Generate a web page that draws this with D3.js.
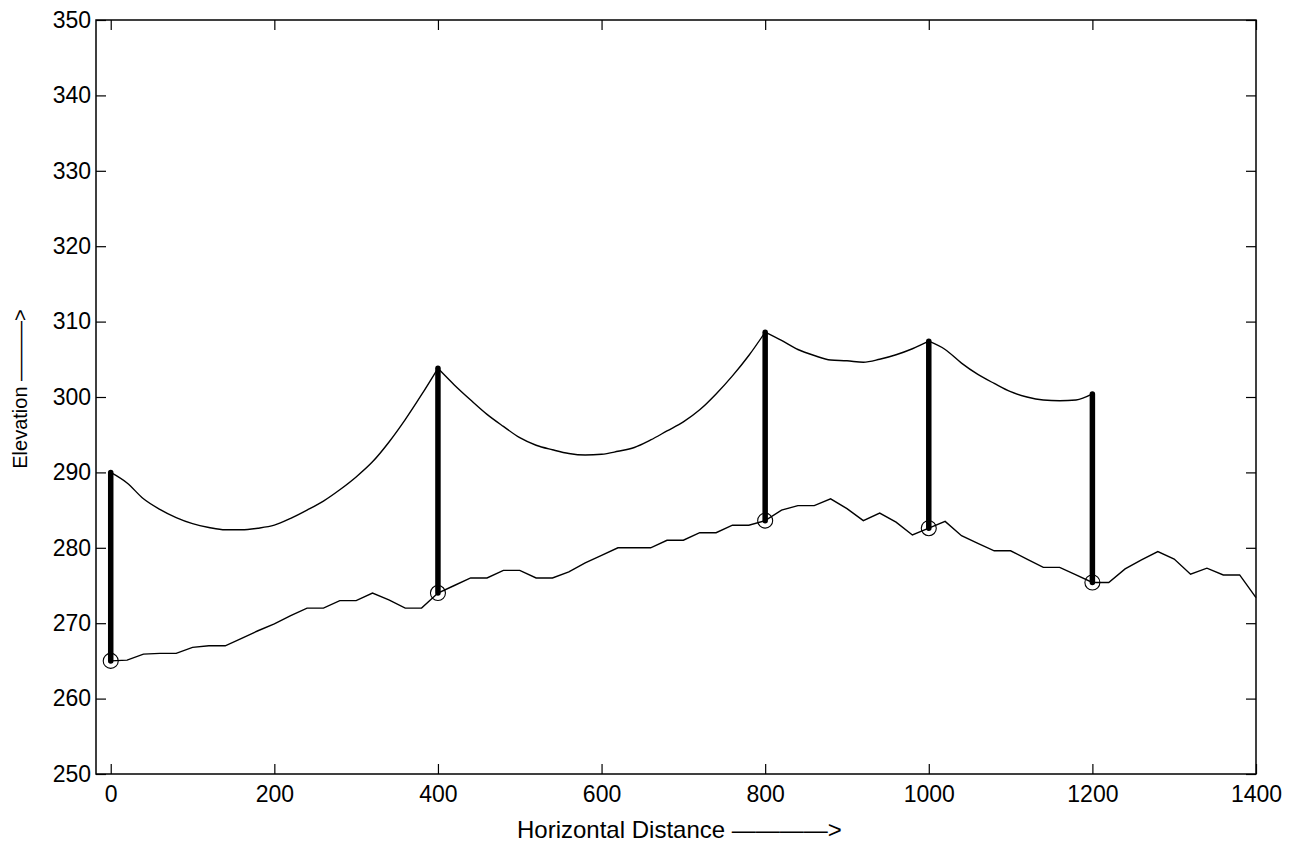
<!DOCTYPE html>
<html>
<head>
<meta charset="utf-8">
<script src="https://cdn.jsdelivr.net/npm/d3@7"></script>
<style>
  body { margin: 0; background: #fff; }
  text { font-family: "Liberation Sans", Arial, sans-serif; fill: #000; }
</style>
</head>
<body>
<script>
// ground profile (x every 20 m)
const groundX = d3.range(0, 1401, 20);
const groundY = [265, 265.1, 265.9, 266, 266, 266.8, 267, 267, 268, 269,
    269.9, 271, 272, 272, 273, 273, 274, 273.1, 272, 272,
    274, 275, 276, 276, 277, 277, 276, 276, 276.8, 278,
    279, 280, 280, 280, 281, 281, 282, 282, 283, 283,
    283.6, 285, 285.6, 285.6, 286.5, 285.2, 283.6, 284.6, 283.4, 281.7,
    282.6, 283.5, 281.6, 280.6, 279.6, 279.6, 278.5, 277.4, 277.4, 276.4,
    275.4, 275.4, 277.2, 278.4, 279.5, 278.5, 276.5, 277.3, 276.4, 276.4,
    273.4];

// conductor (cable) between towers
const cableX = d3.range(0, 1201, 20);
const cableY = [290, 288.6, 286.5, 285.1, 284, 283.2, 282.7, 282.4, 282.4, 282.6,
    283, 283.9, 285, 286.2, 287.7, 289.4, 291.4, 294, 297, 300.3,
    303.8, 301.6, 299.6, 297.7, 296.1, 294.6, 293.6, 293, 292.5, 292.3,
    292.4, 292.8, 293.3, 294.3, 295.5, 296.7, 298.3, 300.4, 302.8, 305.5,
    308.6, 307.5, 306.3, 305.5, 304.9, 304.8, 304.6, 305, 305.6, 306.4,
    307.4, 306.3, 304.5, 303, 301.8, 300.7, 300, 299.6, 299.5, 299.6,
    300.4];

// towers
const towerX = [0, 400, 800, 1000, 1200];
const towerTop = [290, 303.8, 308.6, 307.4, 300.4];
const towerBase = [265, 274, 283.6, 282.6, 275.4];

const xTicks = [0, 200, 400, 600, 800, 1000, 1200, 1400];
const yTicks = [250, 260, 270, 280, 290, 300, 310, 320, 330, 340, 350];

const W = 1304, H = 847;
const mLeft = 96, mRight = 1256, mTop = 20, mBottom = 774;

const svg = d3.select("body").append("svg")
    .attr("width", W)
    .attr("height", H);

const x = d3.scaleLinear().domain([-18, 1400]).range([mLeft, mRight]);
const y = d3.scaleLinear().domain([250, 350]).range([mBottom, mTop]);

const line = d3.line()
    .x(d => x(d[0]))
    .y(d => y(d[1]));

const smooth = d3.line()
    .x(d => x(d[0]))
    .y(d => y(d[1]))
    .curve(d3.curveMonotoneX);

// ground line
svg.append("path")
    .datum(groundX.map((v, i) => [v, groundY[i]]))
    .attr("fill", "none")
    .attr("stroke", "#000")
    .attr("stroke-width", 1.4)
    .attr("d", line);

// cable, one smooth sag per span
const cablePts = cableX.map((v, i) => [v, cableY[i]]);
const spans = d3.pairs(towerX).map(([a, b]) => cablePts.filter(p => p[0] >= a && p[0] <= b));

svg.selectAll(".span")
    .data(spans)
    .join("path")
    .attr("class", "span")
    .attr("fill", "none")
    .attr("stroke", "#000")
    .attr("stroke-width", 1.4)
    .attr("d", smooth);

// towers
svg.selectAll(".tower")
    .data(towerX)
    .join("line")
    .attr("class", "tower")
    .attr("x1", d => x(d))
    .attr("x2", d => x(d))
    .attr("y1", (d, i) => y(towerBase[i]))
    .attr("y2", (d, i) => y(towerTop[i]))
    .attr("stroke", "#000")
    .attr("stroke-width", 5.5)
    .attr("stroke-linecap", "round");

// circles at tower feet
svg.selectAll(".foot")
    .data(towerX)
    .join("circle")
    .attr("class", "foot")
    .attr("cx", d => x(d))
    .attr("cy", (d, i) => y(towerBase[i]))
    .attr("r", 7.5)
    .attr("fill", "none")
    .attr("stroke", "#000")
    .attr("stroke-width", 1.1);

// axes, ticks pointing inwards
const axStyle = g => {
    g.select(".domain").remove();
    g.selectAll("line").attr("stroke", "#000").attr("stroke-width", 1.2);
    g.selectAll("text")
        .style("font-size", "23px")
        .style("font-family", "'Liberation Sans', Arial, sans-serif")
        .attr("fill", "#000");
};

svg.append("g")
    .attr("transform", `translate(0,${mBottom})`)
    .call(d3.axisBottom(x).tickValues(xTicks).tickFormat(d3.format("d"))
        .tickSizeInner(-10).tickSizeOuter(0).tickPadding(12))
    .call(axStyle);

svg.append("g")
    .attr("transform", `translate(0,${mTop})`)
    .call(d3.axisTop(x).tickValues(xTicks).tickSizeInner(-10).tickSizeOuter(0).tickFormat(""))
    .call(axStyle);

svg.append("g")
    .attr("transform", `translate(${mLeft},0)`)
    .call(d3.axisLeft(y).tickValues(yTicks).tickFormat(d3.format("d"))
        .tickSizeInner(-10).tickSizeOuter(0).tickPadding(5))
    .call(axStyle);

svg.append("g")
    .attr("transform", `translate(${mRight},0)`)
    .call(d3.axisRight(y).tickValues(yTicks).tickSizeInner(-10).tickSizeOuter(0).tickFormat(""))
    .call(axStyle);

// box
svg.append("rect")
    .attr("x", mLeft)
    .attr("y", mTop)
    .attr("width", mRight - mLeft)
    .attr("height", mBottom - mTop)
    .attr("fill", "none")
    .attr("stroke", "#000")
    .attr("stroke-width", 1.5);

// axis labels
svg.append("text")
    .attr("x", 517)
    .attr("y", 838)
    .style("font-size", "24px")
    .text("Horizontal Distance \u2014\u2014\u2014\u2014>");

svg.append("text")
    .attr("transform", "translate(27,389) rotate(-90)")
    .attr("text-anchor", "middle")
    .style("font-size", "20px")
    .text("Elevation \u2014\u2014\u2014>");
</script>
</body>
</html>
